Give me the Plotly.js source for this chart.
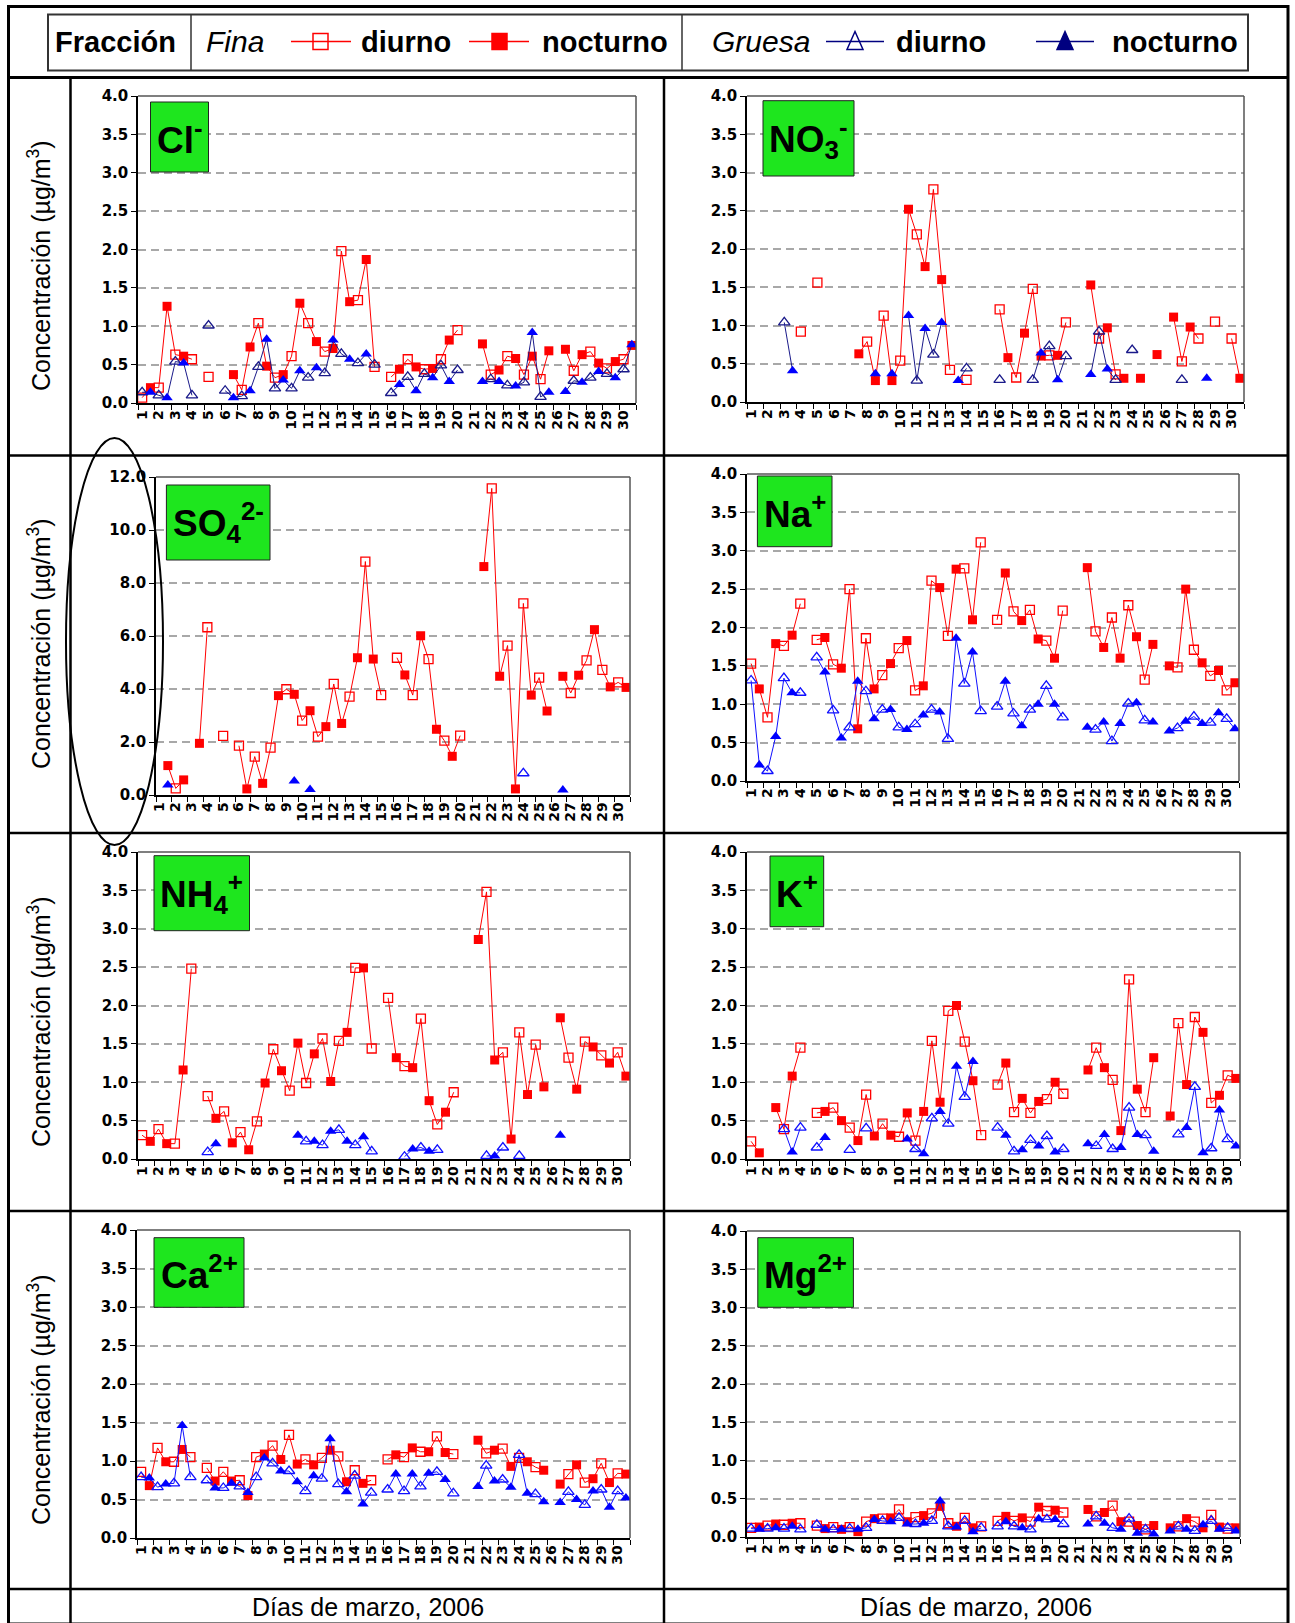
<!DOCTYPE html>
<html>
<head>
<meta charset="utf-8">
<script src="https://cdn.plot.ly/plotly-3.0.1.min.js"></script>
<style>html,body{margin:0;padding:0;background:#fff;}#chart{width:1295px;height:1623px;}</style>
</head>
<body>
<div id="chart"></div>
<script>
const N = null;
const days = [1,2,3,4,5,6,7,8,9,10,11,12,13,14,15,16,17,18,19,20,21,22,23,24,25,26,27,28,29,30];

// Cl-
const cl_fina_diurno     = [0.07,0.20,0.63,0.57,0.34,N,0.17,1.04,0.33,0.61,1.04,0.67,1.98,1.34,0.47,0.34,0.57,0.44,0.57,0.95,N,0.37,0.61,0.37,0.31,N,0.42,0.67,0.45,0.57];
const cl_fina_nocturno   = [0.20,1.26,0.61,N,N,0.37,0.73,0.48,0.37,1.30,0.80,0.71,1.32,1.87,N,0.44,0.47,0.45,0.82,N,0.77,0.43,0.58,0.61,0.68,0.70,0.63,0.52,0.54,0.75];
const cl_gruesa_diurno   = [0.14,0.10,0.54,0.10,1.01,0.16,0.09,0.47,0.19,0.19,0.33,0.39,0.64,0.52,0.50,0.13,0.34,0.38,0.49,0.43,N,0.31,0.23,0.27,0.08,N,0.29,0.33,0.38,0.44];
const cl_gruesa_nocturno = [0.14,0.07,0.52,N,N,0.07,0.16,0.83,0.30,0.42,0.46,0.82,0.57,0.64,N,0.24,0.16,0.33,0.28,N,0.28,0.28,0.22,0.92,0.14,0.15,0.27,0.41,0.33,0.76];

// NO3-
const no3_fina_diurno     = [N,N,N,0.92,1.56,N,N,0.79,1.13,0.54,2.19,2.78,0.42,0.29,N,1.21,0.32,1.48,0.61,1.04,N,0.83,0.36,N,N,N,0.53,0.83,1.05,0.83];
const no3_fina_nocturno   = [N,N,N,N,N,N,0.63,0.28,0.28,2.52,1.77,1.60,N,N,N,0.58,0.90,0.60,0.61,N,1.53,0.97,0.31,0.31,0.62,1.11,0.98,N,N,0.31];
const no3_gruesa_diurno   = [N,N,1.04,N,N,N,N,N,N,N,0.28,0.62,N,0.44,N,0.29,N,0.29,0.73,0.60,N,0.92,0.29,0.68,N,N,0.29,N,N,N];
const no3_gruesa_nocturno = [N,N,0.41,N,N,N,N,0.37,0.37,1.13,0.96,1.04,0.28,N,N,N,N,0.64,0.29,N,0.36,0.43,N,N,N,N,N,0.31,N,N];

// SO4 2-
const so4_fina_diurno     = [N,0.25,N,6.33,2.23,1.86,1.45,1.79,3.99,2.81,2.20,4.19,3.71,8.81,3.77,5.18,3.77,5.13,2.05,2.24,N,11.57,5.64,7.23,4.43,N,3.85,5.08,4.72,4.25];
const so4_fina_nocturno   = [1.11,0.57,1.95,N,N,0.23,0.44,3.75,3.80,3.18,2.58,2.70,5.18,5.13,N,4.53,6.01,2.48,1.46,N,8.62,4.48,0.23,3.77,3.17,4.48,4.52,6.24,4.08,4.06];
const so4_gruesa_diurno   = [N,N,N,N,N,N,N,N,N,N,N,N,N,N,N,N,N,N,N,N,N,N,N,0.82,N,N,N,N,N,N];
const so4_gruesa_nocturno = [0.38,N,N,N,N,N,N,N,0.53,0.21,N,N,N,N,N,N,N,N,N,N,N,N,N,N,N,0.19,N,N,N,N];

// Na+
const na_fina_diurno     = [1.53,0.83,1.76,2.31,1.84,1.52,2.50,1.86,1.38,1.73,1.18,2.61,1.89,2.77,3.11,2.10,2.21,2.23,1.83,2.22,N,1.95,2.13,2.29,1.32,N,1.48,1.71,1.37,1.18];
const na_fina_nocturno   = [1.20,1.79,1.90,N,1.87,1.47,0.68,1.20,1.53,1.83,1.24,2.52,2.76,2.10,N,2.71,2.09,1.85,1.60,N,2.78,1.74,1.60,1.88,1.78,1.50,2.50,1.54,1.44,1.28];
const na_gruesa_diurno   = [1.31,0.13,1.34,1.15,1.61,0.92,0.70,1.17,0.93,0.70,0.74,0.93,0.55,1.27,0.91,0.97,0.88,0.93,1.24,0.83,N,0.67,0.52,1.01,0.79,N,0.69,0.84,0.76,0.81];
const na_gruesa_nocturno = [0.21,0.58,1.15,N,1.42,0.56,1.30,0.81,0.93,0.67,0.86,0.90,1.86,1.68,N,1.30,0.72,1.00,1.00,N,0.70,0.77,0.75,1.02,0.77,0.65,0.78,0.75,0.89,0.68];

// NH4+
const nh4_fina_diurno     = [0.31,0.39,0.20,2.48,0.82,0.62,0.35,0.49,1.43,0.89,0.99,1.57,1.54,2.49,1.44,2.10,1.21,1.83,0.45,0.87,N,3.48,1.39,1.65,1.49,N,1.32,1.53,1.35,1.39];
const nh4_fina_nocturno   = [0.23,0.20,1.16,N,0.53,0.21,0.12,0.99,1.15,1.51,1.37,1.01,1.65,2.49,N,1.32,1.19,0.76,0.61,N,2.86,1.29,0.26,0.84,0.94,1.84,0.91,1.46,1.25,1.08];
const nh4_gruesa_diurno   = [N,N,N,N,0.09,N,N,N,N,N,0.23,0.18,0.38,0.18,0.10,N,0.03,0.15,0.12,N,N,0.04,0.15,0.04,N,N,N,N,N,N];
const nh4_gruesa_nocturno = [N,N,N,N,0.20,N,N,N,N,0.31,0.23,0.36,0.23,0.29,N,N,0.13,0.10,N,N,N,0.04,N,N,N,0.31,N,N,N,N];

// K+
const k_fina_diurno     = [0.23,N,0.39,1.45,0.60,0.67,0.41,0.84,0.46,0.29,0.24,1.54,1.93,1.53,0.31,0.97,0.61,0.60,0.78,0.85,N,1.45,1.03,2.34,0.61,N,1.77,1.85,0.73,1.09];
const k_fina_nocturno   = [0.08,0.67,1.08,N,0.62,0.50,0.24,0.30,0.31,0.60,0.62,0.74,2.00,1.02,N,1.25,0.79,0.75,1.00,N,1.16,1.19,0.37,0.91,1.32,0.56,0.97,1.65,0.83,1.05];
const k_gruesa_diurno   = [N,N,0.39,0.41,0.15,N,0.12,0.40,N,N,0.13,0.53,0.46,0.81,N,0.41,0.10,0.25,0.30,0.13,N,0.17,0.13,0.67,0.31,N,0.32,0.94,0.14,0.26];
const k_gruesa_nocturno = [N,N,0.09,N,0.28,N,N,N,N,0.26,0.07,0.62,1.21,1.27,N,0.31,0.12,0.17,0.09,N,0.20,0.32,0.15,0.32,0.10,N,0.41,0.08,0.64,0.17];

// Ca2+
const ca_fina_diurno     = [0.86,1.17,0.99,1.05,0.91,0.86,0.75,1.05,1.20,1.34,1.02,1.04,1.06,0.88,0.75,1.02,1.05,1.12,1.32,1.09,N,1.10,1.16,1.04,0.92,N,0.83,0.72,0.97,0.84];
const ca_fina_nocturno   = [0.68,0.99,1.15,N,0.74,0.74,0.55,1.09,1.02,0.96,0.95,1.14,0.73,0.71,N,1.08,1.17,1.12,1.11,N,1.27,1.14,0.93,0.99,0.88,0.70,0.95,0.77,0.72,0.83];
const ca_gruesa_diurno   = [0.79,0.66,0.71,0.79,0.75,0.65,0.67,0.79,0.97,0.87,0.61,0.77,0.70,0.81,0.59,0.63,0.61,0.67,0.86,0.58,N,0.94,0.76,1.08,0.57,N,0.60,0.43,0.63,0.61];
const ca_gruesa_nocturno = [0.78,0.70,1.46,N,0.65,0.71,0.59,1.04,0.87,0.73,0.81,1.29,0.60,0.44,N,0.83,0.83,0.84,0.76,N,0.67,0.74,0.66,0.58,0.47,0.46,0.50,0.61,0.40,0.52];

// Mg2+
const mg_fina_diurno     = [0.12,0.15,0.16,0.18,0.15,0.13,0.13,0.20,0.24,0.36,0.26,0.31,0.18,0.25,0.14,0.21,0.21,0.20,0.34,0.32,N,0.27,0.41,0.20,0.10,N,0.14,0.20,0.29,0.11];
const mg_fina_nocturno   = [0.13,0.17,0.18,N,0.11,0.10,0.07,0.24,0.25,0.20,0.28,0.40,0.14,0.12,N,0.27,0.25,0.39,0.35,N,0.36,0.32,0.20,0.15,0.15,0.12,0.24,0.12,0.13,0.12];
const mg_gruesa_diurno   = [0.11,0.11,0.11,0.10,0.16,0.10,0.11,0.12,0.21,0.25,0.17,0.21,0.14,0.21,0.12,0.14,0.14,0.10,0.23,0.17,N,0.27,0.12,0.24,0.10,N,0.14,0.08,0.21,0.12];
const mg_gruesa_nocturno = [0.10,0.12,0.14,N,0.10,0.10,0.10,0.23,0.20,0.17,0.18,0.47,0.13,0.07,N,0.20,0.12,0.24,0.23,N,0.17,0.18,0.10,0.05,0.04,0.08,0.10,0.16,0.10,0.08];

const ion_labels = ['Cl<sup>-</sup>','NO<sub>3</sub><sup>-</sup>','SO<sub>4</sub><sup>2-</sup>','Na<sup>+</sup>','NH<sub>4</sub><sup>+</sup>','K<sup>+</sup>','Ca<sup>2+</sup>','Mg<sup>2+</sup>'];
const y_title = 'Concentración (µg/m<sup>3</sup>)';
const x_title = 'Días de marzo, 2006';

// ---------- layout helpers ----------
const W = 1295, H = 1623;
const FONT = 'Liberation Sans, Arial, Helvetica, sans-serif';
const TICKFONT = 'DejaVu Sans, Verdana, sans-serif';
const px = x => x / W;
const py = y => 1 - y / H;
const RED = '#ff0000';

const panels = [
  {fd:cl_fina_diurno,  fn:cl_fina_nocturno,  gd:cl_gruesa_diurno,  gn:cl_gruesa_nocturno,  ymax:4,  dtick:0.5, box:[138,636,96,403],   lbox:[150.5,208.5,102,172], dark:true},
  {fd:no3_fina_diurno, fn:no3_fina_nocturno, gd:no3_gruesa_diurno, gn:no3_gruesa_nocturno, ymax:4,  dtick:0.5, box:[747,1244,96,402],  lbox:[763,854,100.7,176],   dark:true},
  {fd:so4_fina_diurno, fn:so4_fina_nocturno, gd:so4_gruesa_diurno, gn:so4_gruesa_nocturno, ymax:12, dtick:2,   box:[156,630,477,795],  lbox:[166.4,270,485,560],   dark:false},
  {fd:na_fina_diurno,  fn:na_fina_nocturno,  gd:na_gruesa_diurno,  gn:na_gruesa_nocturno,  ymax:4,  dtick:0.5, box:[747,1239,474,781], lbox:[757.4,832,476,546.7], dark:false},
  {fd:nh4_fina_diurno, fn:nh4_fina_nocturno, gd:nh4_gruesa_diurno, gn:nh4_gruesa_nocturno, ymax:4,  dtick:0.5, box:[138,630,852,1159], lbox:[154,249.5,855.7,930.7], dark:false},
  {fd:k_fina_diurno,   fn:k_fina_nocturno,   gd:k_gruesa_diurno,   gn:k_gruesa_nocturno,   ymax:4,  dtick:0.5, box:[747,1240,852,1159],lbox:[770,823.7,856,926.7],  dark:false},
  {fd:ca_fina_diurno,  fn:ca_fina_nocturno,  gd:ca_gruesa_diurno,  gn:ca_gruesa_nocturno,  ymax:4,  dtick:0.5, box:[137,630,1230,1538],lbox:[154,244,1237.7,1307.3], dark:false},
  {fd:mg_fina_diurno,  fn:mg_fina_nocturno,  gd:mg_gruesa_diurno,  gn:mg_gruesa_nocturno,  ymax:4,  dtick:0.5, box:[747,1240,1231,1537],lbox:[757.8,853.4,1237.7,1307.3], dark:false}
];

const interleave = (a, b) => { const o = []; for (let i = 0; i < a.length; i++) { o.push(a[i], b[i]); } return o; };
const xDay = days.slice();
const xNight = days.map(d => d + 0.5);
const xAll = interleave(xDay, xNight);

const traces = [];
const layout = {
  width: W, height: H,
  margin: {l:0, r:0, t:0, b:0},
  paper_bgcolor: '#ffffff', plot_bgcolor: '#ffffff',
  showlegend: false,
  font: {family: FONT, color: '#000'},
  shapes: [], annotations: []
};

panels.forEach((p, i) => {
  const k = i + 1;
  const xa = k === 1 ? 'x' : 'x' + k;
  const ya = k === 1 ? 'y' : 'y' + k;
  const blueLine = p.dark ? '#1a1a8a' : '#1010ff';
  const blueOpen = p.dark ? '#1a1a8a' : '#1010ff';
  traces.push({x: xAll, y: interleave(p.fd, p.fn), xaxis: xa, yaxis: ya, mode: 'lines', connectgaps: false,
    line: {color: RED, width: 1}, hoverinfo: 'skip'});
  traces.push({x: xDay, y: p.fd, xaxis: xa, yaxis: ya, mode: 'markers',
    marker: {symbol: 'square-open', size: 9, color: RED, line: {width: 1.3, color: RED}}});
  traces.push({x: xNight, y: p.fn, xaxis: xa, yaxis: ya, mode: 'markers',
    marker: {symbol: 'square', size: 9, color: RED, line: {width: 0}}});
  traces.push({x: xAll, y: interleave(p.gd, p.gn), xaxis: xa, yaxis: ya, mode: 'lines', connectgaps: false,
    line: {color: blueLine, width: 1}, hoverinfo: 'skip'});
  traces.push({x: xDay, y: p.gd, xaxis: xa, yaxis: ya, mode: 'markers',
    marker: {symbol: 'triangle-up-open', size: 10, color: blueOpen, line: {width: 1.3, color: blueOpen}}});
  traces.push({x: xNight, y: p.gn, xaxis: xa, yaxis: ya, mode: 'markers',
    marker: {symbol: 'triangle-up', size: 10, color: '#0000ff', line: {width: 0}}});

  const [x0, x1, yTop, yBot] = p.box;
  layout['xaxis' + (k === 1 ? '' : k)] = {
    domain: [px(x0), px(x1)], anchor: ya, range: [0.75, 30.75],
    tickmode: 'array', tickvals: days, ticktext: days.map(String), tickangle: -90,
    tickfont: {family: TICKFONT, size: 14, weight: 700, color: '#000'},
    showline: true, linecolor: '#000', linewidth: 1.5, showgrid: false, zeroline: false,
    ticks: '', minor: {ticks: 'outside', tick0: 0.75, dtick: 1, ticklen: 5, tickcolor: '#000', tickwidth: 1, showgrid: false},
    fixedrange: true
  };
  layout['yaxis' + (k === 1 ? '' : k)] = {
    domain: [py(yBot), py(yTop)], anchor: xa, range: [0, p.ymax], tick0: 0, dtick: p.dtick, tickformat: '.1f',
    tickfont: {family: TICKFONT, size: 15, weight: 700, color: '#000'},
    showline: true, linecolor: '#000', linewidth: 1.5, ticks: 'outside', ticklen: 5, tickcolor: '#000',
    showgrid: true, gridcolor: '#a8a8a8', gridwidth: 1.5, griddash: '8px,5px', zeroline: false, fixedrange: true
  };
  layout.shapes.push({type: 'line', xref: xa + ' domain', yref: ya + ' domain', x0: 0, x1: 1, y0: 1, y1: 1, line: {color: '#555', width: 1.5}});
  layout.shapes.push({type: 'line', xref: xa + ' domain', yref: ya + ' domain', x0: 1, x1: 1, y0: 0, y1: 1, line: {color: '#555', width: 1.5}});
  const [bx0, bx1, by0, by1] = p.lbox;
  layout.shapes.push({type: 'rect', xref: 'paper', yref: 'paper', x0: px(bx0), x1: px(bx1), y0: py(by1), y1: py(by0),
    fillcolor: '#1ee61e', line: {color: '#222', width: 1}});
  layout.annotations.push({xref: 'paper', yref: 'paper', x: px((bx0 + bx1) / 2), y: py((by0 + by1) / 2),
    xanchor: 'center', yanchor: 'middle', showarrow: false, text: '<b>' + ion_labels[i] + '</b>',
    font: {family: FONT, size: 37, color: '#000'}});
});

// ---------- table grid ----------
const L = (xa0, ya0, xa1, ya1, w) => ({type: 'line', xref: 'paper', yref: 'paper', x0: px(xa0), y0: py(ya0), x1: px(xa1), y1: py(ya1), line: {color: '#000', width: w}});
layout.shapes.push({type: 'rect', xref: 'paper', yref: 'paper', x0: px(8.5), x1: px(1288), y0: py(1624), y1: py(6.5), line: {color: '#000', width: 3}});
layout.shapes.push(L(8.5, 77.5, 1288, 77.5, 3));
[455.5, 833, 1211, 1589].forEach(y => layout.shapes.push(L(8.5, y, 1288, y, 2.5)));
layout.shapes.push(L(70.5, 77.5, 70.5, 1624, 2.5));
layout.shapes.push(L(664, 77.5, 664, 1624, 2.5));

// ellipse around SO4 y-axis labels
layout.shapes.push({type: 'circle', xref: 'paper', yref: 'paper', x0: px(66), x1: px(163), y0: py(845), y1: py(438), line: {color: '#000', width: 2}});

// ---------- legend row ----------
layout.shapes.push({type: 'rect', xref: 'paper', yref: 'paper', x0: px(48), x1: px(1248), y0: py(70.5), y1: py(14.5), line: {color: '#333', width: 2}});
layout.shapes.push({type: 'line', xref: 'paper', yref: 'paper', x0: px(191), x1: px(191), y0: py(70.5), y1: py(14.5), line: {color: '#333', width: 1.5}});
layout.shapes.push({type: 'line', xref: 'paper', yref: 'paper', x0: px(682), x1: px(682), y0: py(70.5), y1: py(14.5), line: {color: '#333', width: 1.5}});
const LY = 41.5;
const legLine = (a, b, c) => ({type: 'line', xref: 'paper', yref: 'paper', x0: px(a), x1: px(b), y0: py(LY), y1: py(LY), line: {color: c, width: 1.5}});
const sq = (cx, fill) => ({type: 'rect', xref: 'paper', yref: 'paper', x0: px(cx - 7.5), x1: px(cx + 7.5), y0: py(LY + 8), y1: py(LY - 8),
  fillcolor: fill ? RED : 'rgba(0,0,0,0)', line: {color: RED, width: 1.5}});
const tri = (cx, fill) => ({type: 'path', xref: 'paper', yref: 'paper',
  path: `M ${px(cx - 8)},${py(LY + 8)} L ${px(cx + 8)},${py(LY + 8)} L ${px(cx)},${py(LY - 10)} Z`,
  fillcolor: fill ? '#000080' : 'rgba(0,0,0,0)', line: {color: '#000080', width: 1.5}});
layout.shapes.push(legLine(291, 351, RED), sq(320.5, false));
layout.shapes.push(legLine(469, 529, RED), sq(499.5, true));
layout.shapes.push(legLine(826, 884, '#000080'), tri(855, false));
layout.shapes.push(legLine(1036, 1094, '#000080'), tri(1065, true));
const legText = (cx, t, italic) => ({xref: 'paper', yref: 'paper', x: px(cx), y: py(LY), xanchor: 'center', yanchor: 'middle', showarrow: false,
  text: italic ? '<i>' + t + '</i>' : '<b>' + t + '</b>', font: {family: FONT, size: italic ? 30 : 29, color: '#000'}});
layout.annotations.push(legText(116, 'Fracción', false), legText(235, 'Fina', true), legText(406, 'diurno', false), legText(605, 'nocturno', false),
  legText(761, 'Gruesa', true), legText(941, 'diurno', false), legText(1175, 'nocturno', false));

// ---------- axis titles as table cells ----------
[266, 644, 1022, 1400].forEach(cy => layout.annotations.push({xref: 'paper', yref: 'paper', x: px(39), y: py(cy), textangle: -90,
  xanchor: 'center', yanchor: 'middle', showarrow: false, text: y_title, font: {family: FONT, size: 25, color: '#000'}}));
[367.5, 976].forEach(cx => layout.annotations.push({xref: 'paper', yref: 'paper', x: px(cx), y: py(1607), xanchor: 'center', yanchor: 'middle',
  showarrow: false, text: x_title, font: {family: FONT, size: 25, color: '#000'}}));

Plotly.newPlot('chart', traces, layout, {displayModeBar: false, responsive: false});
</script>
</body>
</html>
